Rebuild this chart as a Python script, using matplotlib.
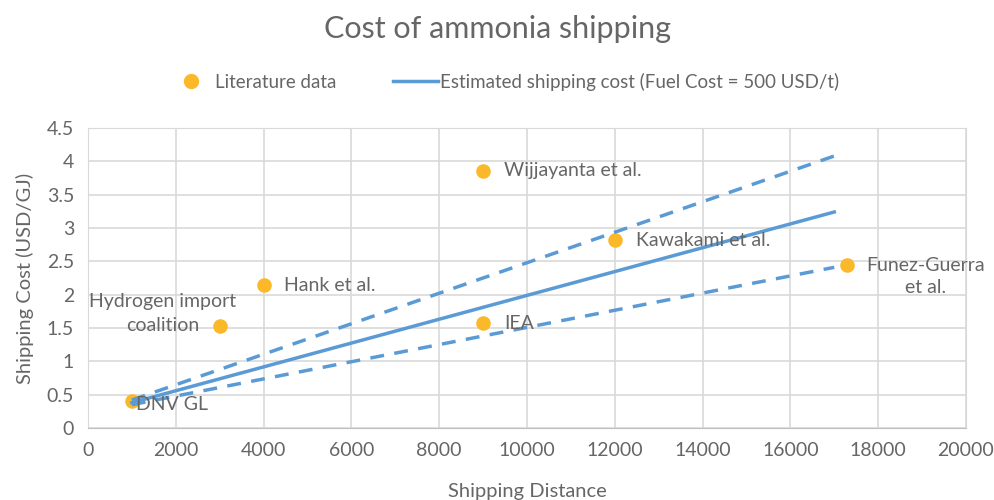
import numpy as np
import matplotlib.pyplot as plt
from matplotlib.lines import Line2D

# literature points
labels = ['DNV GL', 'Hydrogen import\ncoalition', 'Hank et al.', 'Wijjayanta et al.',
          'IEA', 'Kawakami et al.', 'Funez-Guerra\net al.']
dist = [1000, 3000, 4000, 9000, 9000, 12000, 17300]
cost = [0.40, 1.53, 2.14, 3.86, 1.57, 2.82, 2.44]

# estimated cost lines (endpoints)
est_x = [1000, 17000]
est_mid = [0.38, 3.24]
est_high = [0.42, 4.08]
est_low = [0.35, 2.41]

grey = '#666666'
blue = '#5B9BD5'
orange = '#FBB829'

plt.rcParams['font.family'] = ['Lato', 'DejaVu Sans']

fig = plt.figure(figsize=(9.95, 5), dpi=100)
ax = fig.add_axes([0.0884, 0.144, 0.8824, 0.6])

ax.plot(est_x, est_mid, color=blue, lw=2.5, zorder=3)
ax.plot(est_x, est_high, color=blue, lw=2.5, ls=(0, (4, 3)), zorder=3)
ax.plot(est_x, est_low, color=blue, lw=2.5, ls=(0, (4, 3)), zorder=3)
ax.scatter(dist, cost, s=110, color=orange, zorder=2, linewidths=0)

# label offsets in points: (dx, dy, ha, linespacing)
offs = [(3, -2, 'left', 1.2), (-41, 9, 'center', 1.55), (15, 0, 'left', 1.2),
        (15, 0, 'left', 1.2), (15, 0, 'left', 1.2), (15, 0, 'left', 1.2),
        (56, -8, 'center', 1.3)]
for lab, x, y, (dx, dy, ha, lsp) in zip(labels, dist, cost, offs):
    ax.annotate(lab, (x, y), xytext=(dx, dy), textcoords='offset points',
                ha=ha, va='center', fontsize=14, color=grey, linespacing=lsp)

ax.set_xlim(0, 20000)
ax.set_ylim(0, 4.5)
ax.set_xticks(np.arange(0, 20001, 2000))
ax.set_yticks(np.arange(0, 4.51, 0.5))
ax.set_yticklabels(['0', '0.5', '1', '1.5', '2', '2.5', '3', '3.5', '4', '4.5'])
ax.grid(True, color='#d9d9d9', lw=1.2)
ax.set_axisbelow(True)
for s in ax.spines.values():
    s.set_color('#d9d9d9')
ax.spines['bottom'].set_color('#bfbfbf')
ax.tick_params(length=0, labelsize=14, colors=grey, pad=10)
ax.set_xlabel('Shipping Distance', fontsize=14.5, color=grey, labelpad=17)
ax.set_ylabel('Shipping Cost (USD/GJ)', fontsize=14.5, color=grey, labelpad=9)

fig.suptitle('Cost of ammonia shipping', fontsize=22, color=grey, y=0.97)

handles = [Line2D([], [], marker='o', ls='none', color=orange, markersize=10),
           Line2D([], [], color=blue, lw=2.5)]
fig.legend(handles, ['Literature data', 'Estimated shipping cost (Fuel Cost = 500 USD/t)'],
           loc='center', bbox_to_anchor=(0.506, 0.836), ncol=2, frameon=False,
           fontsize=13.5, labelcolor=grey, columnspacing=3.0, handlelength=2.4,
           handletextpad=0.1)

fig.savefig('out.png', dpi=100)
